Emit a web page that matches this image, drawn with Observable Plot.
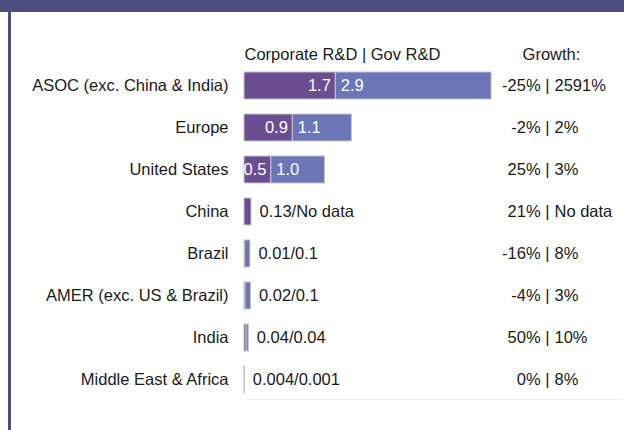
<!DOCTYPE html>
<html>
<head>
<meta charset="utf-8">
<script src="https://cdn.jsdelivr.net/npm/d3@7"></script>
<script src="https://cdn.jsdelivr.net/npm/@observablehq/plot@0.6"></script>
<style>
  html, body { margin: 0; padding: 0; background: #ffffff; }
  #wrap { position: relative; width: 624px; height: 430px; background: #ffffff; overflow: hidden; }
  #topband { position: absolute; left: 0; top: 0; width: 624px; height: 12px; background: #4b4e7d; }
  #leftline { position: absolute; left: 8px; top: 12px; width: 3px; height: 418px; background: #4b4e7d; }
  #chart { position: absolute; left: 0; top: 0; }
</style>
</head>
<body>
<div id="wrap">
  <div id="topband"></div>
  <div id="leftline"></div>
  <div id="chart"></div>
</div>
<script>
const regions = ["ASOC (exc. China & India)", "Europe", "United States", "China", "Brazil", "AMER (exc. US & Brazil)", "India", "Middle East & Africa"];
const corporate = [1.7, 0.9, 0.5, 0.13, 0.01, 0.02, 0.04, 0.004];
const government = [2.9, 1.1, 1.0, null, 0.1, 0.1, 0.04, 0.001];
const corpGrowth = ["-25%", "-2%", "25%", "21%", "-16%", "-4%", "50%", "0%"];
const govGrowth = ["2591%", "2%", "3%", "No data", "8%", "3%", "10%", "8%"];
const headerBars = "Corporate R&D | Gov R&D";
const headerGrowth = "Growth:";

const rows = regions.map((r, i) => ({
  region: r,
  corp: corporate[i],
  gov: government[i] ?? 0,
  govLabel: government[i] == null ? "No data" : String(government[i]),
  cg: corpGrowth[i],
  gg: govGrowth[i]
}));
const big = rows.filter(d => d.corp + d.gov >= 1);
const small = rows.filter(d => d.corp + d.gov < 1);

const corpColor = "#6b4e91";
const govColor = "#6c75b6";
const edge = "#c6c6c6";

const chart = Plot.plot({
  width: 624,
  height: 430,
  marginLeft: 244,
  marginRight: 4,
  marginTop: 65,
  marginBottom: 31,
  x: { domain: [0, 7], axis: null },
  y: { domain: regions, paddingInner: 0.36, paddingOuter: 0.13, label: null, tickSize: 0, tickPadding: 16 },
  style: { fontFamily: "'Liberation Sans', Arial, sans-serif", fontSize: "16.5px", color: "#1a1a1a", background: "transparent" },
  marks: [
    Plot.frame({ anchor: "bottom", stroke: "#eeeeee" }),
    Plot.barX(rows, { y: "region", x1: 0, x2: "corp", fill: corpColor, stroke: edge, strokeWidth: 1 }),
    Plot.barX(rows.filter(d => d.gov > 0), { y: "region", x1: "corp", x2: d => d.corp + d.gov, fill: govColor, stroke: edge, strokeWidth: 1 }),
    Plot.text(big, { y: "region", x: "corp", text: d => String(d.corp), textAnchor: "end", dx: -5, fill: "white" }),
    Plot.text(big, { y: "region", x: "corp", text: d => d.gov.toFixed(1), textAnchor: "start", dx: 5, fill: "white" }),
    Plot.text(small, { y: "region", x: d => d.corp + d.gov, text: d => `${d.corp}/${d.govLabel}`, textAnchor: "start", dx: 8, fill: "#1a1a1a" }),
    Plot.text(rows, { y: "region", frameAnchor: "right", text: d => `${d.cg} |`, textAnchor: "end", dx: -71, fill: "#1a1a1a" }),
    Plot.text(rows, { y: "region", frameAnchor: "right", text: "gg", textAnchor: "start", dx: -66, fill: "#1a1a1a" }),
    Plot.text([headerBars], { frameAnchor: "top-left", text: d => d, textAnchor: "start", dy: -17, fill: "#1a1a1a" }),
    Plot.text([headerGrowth], { frameAnchor: "top-right", text: d => d, textAnchor: "middle", dx: -69, dy: -17, fill: "#1a1a1a" })
  ]
});
document.getElementById("chart").appendChild(chart);
</script>
</body>
</html>
